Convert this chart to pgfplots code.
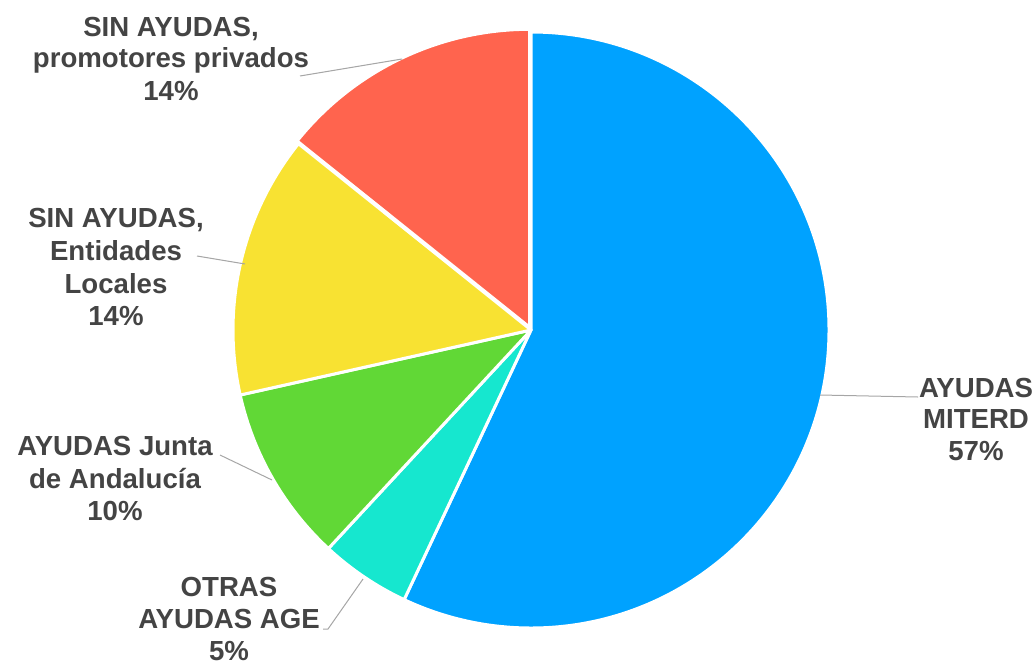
\documentclass[border=0pt]{standalone}
\usepackage{pgfplots}
\pgfplotsset{compat=1.18}
\usepackage{pgfplotstable}
\usepackage{fontspec}
\setmainfont{Liberation Sans}
\definecolor{cBlue}{HTML}{00A2FF}
\definecolor{cTeal}{HTML}{16E7CF}
\definecolor{cGreen}{HTML}{61D836}
\definecolor{cYellow}{HTML}{F8E232}
\definecolor{cRed}{HTML}{FF644E}
\definecolor{txt}{HTML}{444444}
\definecolor{lead}{HTML}{A6A6A6}

\pgfplotstableread{
label value
MITERD 57.0
AGE 4.9
Junta 9.6
Locales 14.25
Privados 14.25
}\piedata

\begin{document}%
\begin{tikzpicture}[lbl/.style={font=\bfseries\fontsize{13.8}{16}\selectfont, text=txt, inner sep=0pt, anchor=base}]
\pgfplotstablegetelem{0}{value}\of\piedata \let\vA\pgfplotsretval
\pgfplotstablegetelem{1}{value}\of\piedata \let\vB\pgfplotsretval
\pgfplotstablegetelem{2}{value}\of\piedata \let\vC\pgfplotsretval
\pgfplotstablegetelem{3}{value}\of\piedata \let\vD\pgfplotsretval
\pgfplotstablegetelem{4}{value}\of\piedata \let\vE\pgfplotsretval
\pgfmathsetmacro\aA{90}
\pgfmathsetmacro\aB{\aA-3.6*\vA}
\pgfmathsetmacro\aC{\aB-3.6*\vB}
\pgfmathsetmacro\aD{\aC-3.6*\vC}
\pgfmathsetmacro\aE{\aD-3.6*\vD}
\pgfmathsetmacro\aF{\aE-3.6*\vE}
\pgfmathsetmacro\mR{(\aE+\aF)/2}
\useasboundingbox (0,0) rectangle (518pt,332pt);
\begin{axis}[name=ax, at={(0,0)}, anchor=south west, scale only axis, width=518pt, height=332pt,
  xmin=0, xmax=1036, ymin=0, ymax=664, y dir=reverse, hide axis, clip=false]
\def\r{149pt}
\fill[cBlue, draw=white, line width=1.5pt, line join=round] (axis cs:531,330) -- ++(\aA:\r) arc[start angle=\aA, end angle=\aB, radius=\r] -- cycle;
\fill[cTeal, draw=white, line width=1.5pt, line join=round] (axis cs:531,330) -- ++(\aB:\r) arc[start angle=\aB, end angle=\aC, radius=\r] -- cycle;
\fill[cGreen, draw=white, line width=1.5pt, line join=round] (axis cs:531,330) -- ++(\aC:\r) arc[start angle=\aC, end angle=\aD, radius=\r] -- cycle;
\fill[cYellow, draw=white, line width=1.5pt, line join=round] (axis cs:531,330) -- ++(\aD:\r) arc[start angle=\aD, end angle=\aE, radius=\r] -- cycle;
\fill[cRed, draw=white, line width=1.5pt, line join=round] ([shift={(\mR:1.5pt)}]axis cs:531,330) -- ++(\aE:\r) arc[start angle=\aE, end angle=\aF, radius=\r] -- cycle;
% leader lines
\draw[lead, line width=0.5pt] (axis cs:300,76) -- (axis cs:402,59);
\draw[lead, line width=0.5pt] (axis cs:197,256) -- (axis cs:245,264);
\draw[lead, line width=0.5pt] (axis cs:220,455) -- (axis cs:272,480);
\draw[lead, line width=0.5pt] (axis cs:323,629) -- (axis cs:328,629) -- (axis cs:363,579);
\draw[lead, line width=0.5pt] (axis cs:820,395) -- (axis cs:918,397);
% labels
\node[lbl] at (axis cs:171,36) {SIN AYUDAS,};
\node[lbl] at (axis cs:171,67) {promotores privados};
\node[lbl] at (axis cs:171,100) {14\%};
\node[lbl] at (axis cs:116,227) {SIN AYUDAS,};
\node[lbl] at (axis cs:116,260) {Entidades};
\node[lbl] at (axis cs:116,293) {Locales};
\node[lbl] at (axis cs:116,325) {14\%};
\node[lbl] at (axis cs:115,455) {AYUDAS Junta};
\node[lbl] at (axis cs:115,488) {de Andalucía};
\node[lbl] at (axis cs:115,520) {10\%};
\node[lbl] at (axis cs:229,596) {OTRAS};
\node[lbl] at (axis cs:229,628) {AYUDAS AGE};
\node[lbl] at (axis cs:229,660) {5\%};
\node[lbl] at (axis cs:976,397) {AYUDAS};
\node[lbl] at (axis cs:976,428) {MITERD};
\node[lbl] at (axis cs:976,460) {57\%};
\end{axis}
\end{tikzpicture}%
\end{document}
